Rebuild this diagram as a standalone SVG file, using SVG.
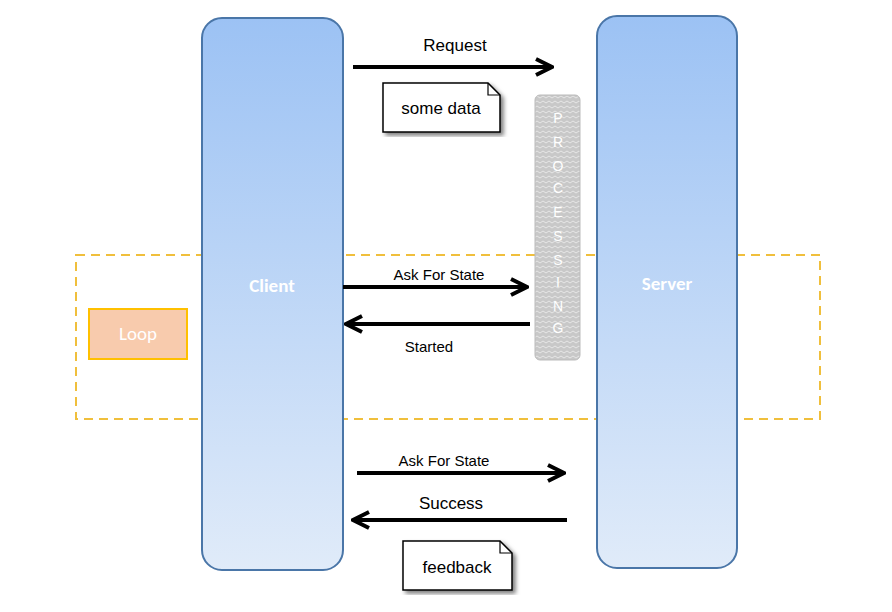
<svg xmlns="http://www.w3.org/2000/svg" width="892" height="612" viewBox="0 0 892 612">
<defs>
<linearGradient id="lg" x1="0" y1="0" x2="0" y2="1"><stop offset="0" stop-color="#9cc2f4"/><stop offset="1" stop-color="#e0ebf9"/></linearGradient>
<pattern id="zz" width="6" height="5" patternUnits="userSpaceOnUse"><rect width="6" height="5" fill="#c8c8c8"/><path d="M0 3 L3 1 L6 3" fill="none" stroke="#e6e6e6" stroke-width="1"/></pattern>
<marker id="ah" viewBox="0 0 10 10" refX="9" refY="5" markerWidth="5" markerHeight="5" orient="auto"><path d="M1 1 L9 5 L1 9" fill="none" stroke="#000" stroke-width="2"/></marker>
<filter id="sh"><feDropShadow dx="3" dy="3" stdDeviation="2" flood-color="#000" flood-opacity="0.5"/></filter>
</defs>
<style>
.life{fill:url(#lg);stroke:#4a76a8;stroke-width:2}
.lt{font-family:Calibri,"Liberation Sans",sans-serif;font-weight:bold;font-size:19px;fill:#fff;text-anchor:middle}
.arr{stroke:#000;stroke-width:4;marker-end:url(#ah);fill:none}
.lab{font-family:"Liberation Sans",sans-serif;font-size:17px;fill:#000;text-anchor:middle}
.lab2{font-family:"Liberation Sans",sans-serif;font-size:15px;fill:#000;text-anchor:middle}
.note{fill:#fff;stroke:#000;stroke-width:1.5;filter:url(#sh)}
.pl{font-family:"Liberation Sans",sans-serif;font-size:14px;fill:#fff;text-anchor:middle}
</style>
<g id="loop"><rect x="76" y="255" width="744" height="164" fill="none" stroke="#f0bf3c" stroke-width="2" stroke-dasharray="9,6"/></g>
<g id="client"><rect class="life" x="202" y="18" width="141" height="552" rx="20"/><text class="lt" x="272" y="292">Client</text></g>
<g id="server"><rect class="life" x="597" y="16" width="140" height="552" rx="20"/><text class="lt" x="667" y="290">Server</text></g>
<g id="loopLabel"><rect x="89" y="309" width="98" height="50" fill="#f8cbad" stroke="#ffc000" stroke-width="2"/><text class="lt" x="138" y="340" style="font-weight:normal">Loop</text></g>
<g id="processing"><rect x="535" y="95" width="45" height="265" rx="5" fill="url(#zz)" stroke="#bbb"/>
<text class="pl" x="558" y="123">P</text><text class="pl" x="558" y="147">R</text><text class="pl" x="558" y="171">O</text><text class="pl" x="558" y="193">C</text><text class="pl" x="558" y="217">E</text><text class="pl" x="558" y="241">S</text><text class="pl" x="558" y="265">S</text><text class="pl" x="558" y="287">I</text><text class="pl" x="558" y="311">N</text><text class="pl" x="558" y="333">G</text></g>
<g id="note1"><path class="note" d="M383 83 H488 L500 95 V132 H383 Z"/><path d="M488 83 V95 H500" fill="none" stroke="#000" stroke-width="1.2"/><text class="lab" x="441" y="114">some data</text></g>
<g id="note2"><path class="note" d="M403 541 H500 L512 553 V590 H403 Z"/><path d="M500 541 V553 H512" fill="none" stroke="#000" stroke-width="1.2"/><text class="lab" x="457" y="573">feedback</text></g>
<g id="connectors">
<line class="arr" x1="353" y1="67" x2="552" y2="67"/>
<line class="arr" x1="343" y1="287" x2="527" y2="287"/>
<line class="arr" x1="530" y1="324" x2="346" y2="324"/>
<line class="arr" x1="357" y1="473" x2="564" y2="473"/>
<line class="arr" x1="567" y1="520" x2="353" y2="520"/>
</g>
<g id="labels">
<text class="lab" x="455" y="51">Request</text>
<text class="lab2" x="439" y="280">Ask For State</text>
<text class="lab2" x="429" y="352">Started</text>
<text class="lab2" x="444" y="466">Ask For State</text>
<text class="lab" x="451" y="509">Success</text>
</g>
</svg>
